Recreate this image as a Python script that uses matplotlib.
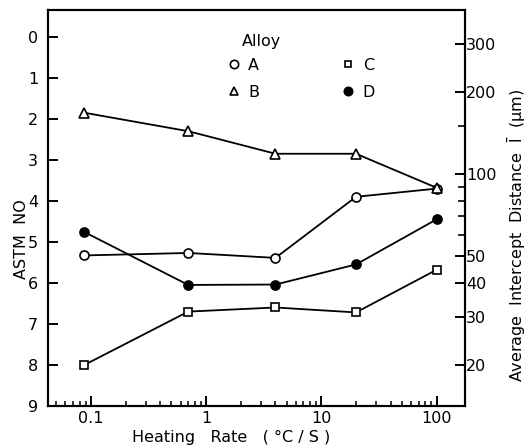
import numpy as np
import matplotlib
matplotlib.use("Agg")
import matplotlib.pyplot as plt
from matplotlib.lines import Line2D
from matplotlib.ticker import FixedLocator, NullFormatter, LogLocator

# heating rate (deg C / s) and ASTM grain size numbers per alloy
rate = [0.088, 0.7, 4.0, 20.0, 100.0]
astm_a = [5.33, 5.27, 5.39, 3.9, 3.7]
astm_b = [1.85, 2.3, 2.85, 2.85, 3.68]
astm_c = [8.0, 6.7, 6.6, 6.72, 5.68]
astm_d = [4.76, 6.05, 6.04, 5.55, 4.45]

astm_ticks = [0, 1, 2, 3, 4, 5, 6, 7, 8, 9]
dist_major = [20, 30, 40, 50, 100, 200, 300]
dist_minor = [60, 70, 80, 90, 150]


def astm_to_um(g):
    # mean intercept length from ASTM number
    return 1000 * 10 ** (-(np.asarray(g) + 3.298) / 6.6457)


FS = 11.5
plt.rcParams['font.family'] = 'DejaVu Sans'
plt.rcParams['font.size'] = FS

fig = plt.figure(figsize=(5.30, 4.48), dpi=100)
ax = fig.add_axes([0.0906, 0.094, 0.786, 0.884])

series = [
    (astm_a, 'o', 'white', 'A'),
    (astm_b, '^', 'white', 'B'),
    (astm_c, 's', 'white', 'C'),
    (astm_d, 'o', 'black', 'D'),
]
handles = []
for vals, mk, fc, name in series:
    ms = 6.5 if mk != 's' else 5.5
    ax.plot(rate, vals, color='black', lw=1.3, marker=mk, ms=ms,
            mfc=fc, mec='black', mew=1.2, zorder=3)
    handles.append(Line2D([], [], ls='none', marker=mk, ms=ms - 0.5,
                          mfc=fc, mec='black', mew=1.2, label=name))

ax.set_xscale('log')
ax.set_xlim(0.0425, 175)
ax.set_ylim(9, -0.66)
ax.set_yticks(astm_ticks)
ax.set_xticks([0.1, 1, 10, 100])
ax.set_xticklabels(['0.1', '1', '10', '100'])
ax.xaxis.set_minor_locator(LogLocator(base=10, subs=np.arange(2, 10)))
ax.xaxis.set_minor_formatter(NullFormatter())
ax.tick_params(axis='both', which='major', direction='in', length=7, width=1.4,
               labelsize=FS)
ax.tick_params(axis='y', which='major', pad=7)
ax.tick_params(axis='x', which='major', pad=4)
ax.tick_params(axis='x', which='minor', direction='in', length=3.5, width=1.1)
ax.tick_params(axis='y', which='both', left=True, right=False)
for s in ax.spines.values():
    s.set_linewidth(1.5)

ax.set_ylabel('ASTM  NO', fontsize=FS)
ax.yaxis.set_label_coords(-0.045, 0.42)
ax.set_xlabel('Heating   Rate   ( °C / S )', fontsize=FS, labelpad=1)
ax.xaxis.set_label_coords(0.44, -0.062)

# right axis: average intercept distance on log scale
ax2 = ax.twinx()
ax2.set_yscale('log')
lo, hi = astm_to_um([9, -0.66])
ax2.set_ylim(lo, hi)
ax2.yaxis.set_major_locator(FixedLocator(dist_major))
ax2.yaxis.set_minor_locator(FixedLocator(dist_minor))
ax2.set_yticklabels([str(v) for v in dist_major])
ax2.yaxis.set_minor_formatter(NullFormatter())
ax2.tick_params(axis='y', which='major', direction='in', length=7, width=1.4,
                labelsize=FS, pad=1)
ax2.tick_params(axis='y', which='minor', direction='in', length=5, width=1.2)
ax2.set_ylabel(r'Average  Intercept  Distance  $\bar{\mathrm{l}}$  (μm)',
               fontsize=FS)
ax2.yaxis.set_label_coords(1.098, 0.43)
for s in ax2.spines.values():
    s.set_linewidth(1.5)

ax.text(0.513, 0.92, 'Alloy', transform=ax.transAxes, fontsize=FS,
        ha='center', va='center')
ax.legend(handles=handles, ncol=2, frameon=False,
          loc='upper left', bbox_to_anchor=(0.415, 0.895),
          handlelength=0.8, handletextpad=0.5, columnspacing=5.2,
          labelspacing=0.75, fontsize=FS, borderaxespad=0)

fig.savefig('out.png', dpi=100)
